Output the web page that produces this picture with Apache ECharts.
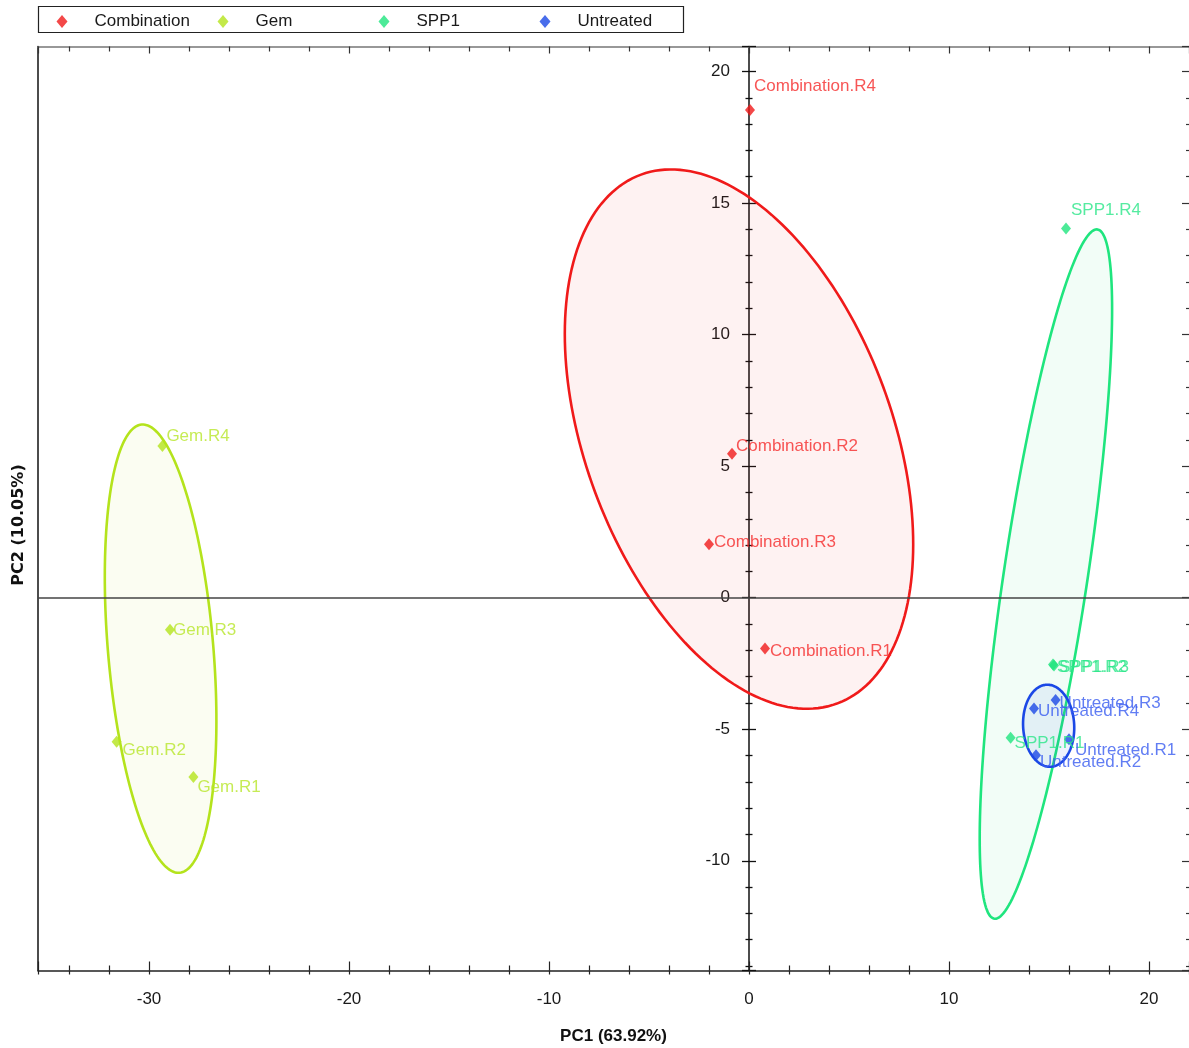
<!DOCTYPE html>
<html><head><meta charset="utf-8">
<script src="https://cdn.jsdelivr.net/npm/echarts@6/dist/echarts.min.js"></script>
<style>html,body{margin:0;padding:0;background:#fff}#chart{width:1189px;height:1048px}</style>
</head><body><div id="chart"></div>
<script>
// ---- data ----
const groups = ['Combination', 'Gem', 'SPP1', 'Untreated'];
const combinationNames = ['Combination.R1', 'Combination.R2', 'Combination.R3', 'Combination.R4'];
const combinationPC1 = [0.8, -0.85, -2.0, 0.05];
const combinationPC2 = [-1.93, 5.47, 2.03, 18.54];
const gemNames = ['Gem.R1', 'Gem.R2', 'Gem.R3', 'Gem.R4'];
const gemPC1 = [-27.78, -31.62, -28.95, -29.33];
const gemPC2 = [-6.82, -5.48, -1.22, 5.77];
const spp1Names = ['SPP1.R1', 'SPP1.R2', 'SPP1.R3', 'SPP1.R4'];
const spp1PC1 = [13.08, 15.2, 15.25, 15.85];
const spp1PC2 = [-5.32, -2.54, -2.58, 14.03];
const untreatedNames = ['Untreated.R1', 'Untreated.R2', 'Untreated.R3', 'Untreated.R4'];
const untreatedPC1 = [16.0, 14.35, 15.33, 14.25];
const untreatedPC2 = [-5.38, -5.99, -3.89, -4.21];
// ellipse half-extents along PC1 / PC2 and their correlation, per group
const ellipseHalfPC1 = [8.71, 2.79, 3.31, 1.28];
const ellipseHalfPC2 = [10.25, 8.52, 13.1, 1.56];
const ellipseCorr = [-0.39, -0.32, 0.768, -0.05];
// tick labels
const xTickLabels = [-30, -20, -10, 0, 10, 20];
const yTickLabels = [-10, -5, 0, 5, 10, 15, 20];
const xRange = [-35.55, 22.0];
const yRange = [-14.17, 20.95];

// ---- styling / layout ----
const colors = ['#f01a1a', '#b4e31c', '#1fe57e', '#1b48e6'];
const labelColors = ['#f52a2a', '#b8e62a', '#2ae688', '#3a5cf0'];
const fills = ['rgba(240,26,26,0.06)', 'rgba(180,227,28,0.06)', 'rgba(31,229,126,0.06)', 'rgba(27,72,230,0.07)'];
// label nudges [dx from marker centre to text start, dy of text centre]
const labelNudge = [
  [[5, 3], [4, -7], [5, -2], [4, -24]],
  [[4, 10], [6, 8], [3, 1], [4, -10]],
  [[4, 6], [4, 3], [5, 2], [5, -18]],
  [[6, 11], [4, 7], [4, 3], [4, 3]]
];

const names = [combinationNames, gemNames, spp1Names, untreatedNames];
const pc1 = [combinationPC1, gemPC1, spp1PC1, untreatedPC1];
const pc2 = [combinationPC2, gemPC2, spp1PC2, untreatedPC2];
const mean = a => a.reduce((s, v) => s + v, 0) / a.length;

const FONT = 'Liberation Sans, Arial, sans-serif';
const tickColor = '#1a1a1a';
const GRID = { left: 38, top: 46.5, right: 0, bottom: 77.5 };
const gridWidth = 1189 - GRID.left - GRID.right;
// the vertical PC2 axis is drawn where PC1 = 0
const zeroOffset = -((0 - xRange[0]) / (xRange[1] - xRange[0])) * gridWidth;

function fmtX(v) { return xTickLabels.some(t => Math.abs(t - v) < 1e-6) ? String(Math.round(v)) : ''; }
function fmtY(v) { return yTickLabels.some(t => Math.abs(t - v) < 1e-6) ? String(Math.round(v)) : ''; }

function ellipseRender(gi) {
  return function (params, api) {
    const cx = mean(pc1[gi]), cy = mean(pc2[gi]);
    const w = ellipseHalfPC1[gi], h = ellipseHalfPC2[gi], r = ellipseCorr[gi];
    const pts = [];
    const N = 200;
    for (let k = 0; k < N; k++) {
      const t = 2 * Math.PI * k / N;
      pts.push(api.coord([cx + w * Math.cos(t), cy + r * h * Math.cos(t) + h * Math.sqrt(1 - r * r) * Math.sin(t)]));
    }
    return {
      type: 'polygon',
      shape: { points: pts },
      style: { fill: fills[gi], stroke: colors[gi], lineWidth: 2.6 }
    };
  };
}

const series = [];
groups.forEach((g, gi) => {
  series.push({
    type: 'custom', name: g + ' ellipse', xAxisIndex: 0, yAxisIndex: 0, z: 1, silent: true,
    renderItem: ellipseRender(gi),
    data: [[mean(pc1[gi]), mean(pc2[gi])]],
    markLine: gi === 0 ? {
      silent: true, symbol: 'none', label: { show: false },
      lineStyle: { color: '#444', width: 1.5, type: 'solid' },
      data: [{ yAxis: 0 }]
    } : undefined
  });
});
groups.forEach((g, gi) => {
  series.push({
    type: 'scatter', name: g, xAxisIndex: 0, yAxisIndex: 0, z: 5,
    symbol: 'diamond', symbolSize: [10, 12],
    itemStyle: { color: colors[gi] },
    label: { show: true, formatter: '{b}', position: 'right', distance: 0, fontFamily: FONT, fontSize: 17, color: labelColors[gi] },
    data: names[gi].map((n, i) => ({
      name: n, value: [pc1[gi][i], pc2[gi][i]],
      label: { offset: [labelNudge[gi][i][0] - 5, labelNudge[gi][i][1]] }
    }))
  });
});

const baseX = { type: 'value', gridIndex: 0, min: xRange[0], max: xRange[1], splitNumber: 6, splitLine: { show: false } };
const baseY = { type: 'value', gridIndex: 0, min: yRange[0], max: yRange[1], splitNumber: 7, splitLine: { show: false } };

const legendStep = 161;
const option = {
  animation: false,
  backgroundColor: '#fff',
  textStyle: { fontFamily: FONT },
  grid: Object.assign({ containLabel: false, outerBoundsMode: 'none' }, GRID),
  legend: groups.map((g, gi) => ({
    data: [{ name: g, icon: 'diamond' }],
    left: 56.5 + gi * legendStep, top: 13, padding: 0, itemWidth: 11, itemHeight: 13,
    selectedMode: false,
    textStyle: { fontFamily: FONT, fontSize: 17, color: '#1a1a1a', padding: [0, 0, 0, 22] }
  })),
  xAxis: [
    Object.assign({}, baseX, {
      position: 'bottom',
      axisLine: { onZero: false, lineStyle: { color: '#222', width: 1.5 } },
      axisTick: { inside: true, length: 9, lineStyle: { color: '#222', width: 1.2 } },
      minorTick: { show: true, splitNumber: 5, length: 5, lineStyle: { color: '#222', width: 1.2 } },
      axisLabel: { fontFamily: FONT, fontSize: 17, color: tickColor, margin: 20, formatter: fmtX },
      name: 'PC1 (63.92%)', nameLocation: 'middle', nameGap: 57,
      nameTextStyle: { fontFamily: FONT, fontWeight: 'bold', fontSize: 17, color: '#111' }
    }),
    Object.assign({}, baseX, {
      position: 'bottom',
      axisLine: { show: false, onZero: false },
      axisTick: { inside: false, length: 4, lineStyle: { color: '#222', width: 1.2 } },
      minorTick: { show: true, splitNumber: 5, length: 4, lineStyle: { color: '#222', width: 1.2 } },
      axisLabel: { show: false }
    }),
    Object.assign({}, baseX, {
      position: 'top',
      axisLine: { onZero: false, lineStyle: { color: '#777', width: 1.5 } },
      axisTick: { inside: true, length: 7, lineStyle: { color: '#333', width: 1.2 } },
      minorTick: { show: true, splitNumber: 5, length: 5, lineStyle: { color: '#333', width: 1.2 } },
      axisLabel: { show: false }
    })
  ],
  yAxis: [
    Object.assign({}, baseY, {
      position: 'left', offset: zeroOffset,
      axisLine: { onZero: false, lineStyle: { color: '#111', width: 1.5 } },
      axisTick: { inside: false, length: 7, lineStyle: { color: '#111', width: 1.3 } },
      minorTick: { show: true, splitNumber: 5, length: 3.5, lineStyle: { color: '#111', width: 1.3 } },
      axisLabel: { fontFamily: FONT, fontSize: 17, color: tickColor, margin: 19, formatter: fmtY }
    }),
    Object.assign({}, baseY, {
      position: 'left', offset: zeroOffset,
      axisLine: { show: false, onZero: false },
      axisTick: { inside: true, length: 7, lineStyle: { color: '#111', width: 1.3 } },
      minorTick: { show: true, splitNumber: 5, length: 3.5, lineStyle: { color: '#111', width: 1.3 } },
      axisLabel: { show: false }
    }),
    Object.assign({}, baseY, {
      position: 'right',
      axisLine: { show: false, onZero: false },
      axisTick: { inside: true, length: 7, lineStyle: { color: '#333', width: 1.2 } },
      minorTick: { show: true, splitNumber: 5, length: 3, lineStyle: { color: '#333', width: 1.2 } },
      axisLabel: { show: false }
    }),
    Object.assign({}, baseY, {
      position: 'left',
      axisLine: { show: true, onZero: false, lineStyle: { color: '#111', width: 1.5 } },
      axisTick: { show: false },
      axisLabel: { show: false }
    })
  ],
  graphic: [
    { type: 'rect', shape: { x: 38.5, y: 6.5, width: 645, height: 26 }, style: { fill: 'none', stroke: '#222', lineWidth: 1.2 }, silent: true },
    { type: 'text', x: 19, y: 525, rotation: Math.PI / 2, silent: true,
      style: { text: 'PC2 (10.05%)', fontFamily: 'DejaVu Sans', fontWeight: 'bold', fontSize: 16, fill: '#111', align: 'center', verticalAlign: 'middle' } }
  ],
  series: series
};

const chart = echarts.init(document.getElementById('chart'), null, { renderer: 'canvas' });
chart.setOption(option);
</script>
</body></html>
